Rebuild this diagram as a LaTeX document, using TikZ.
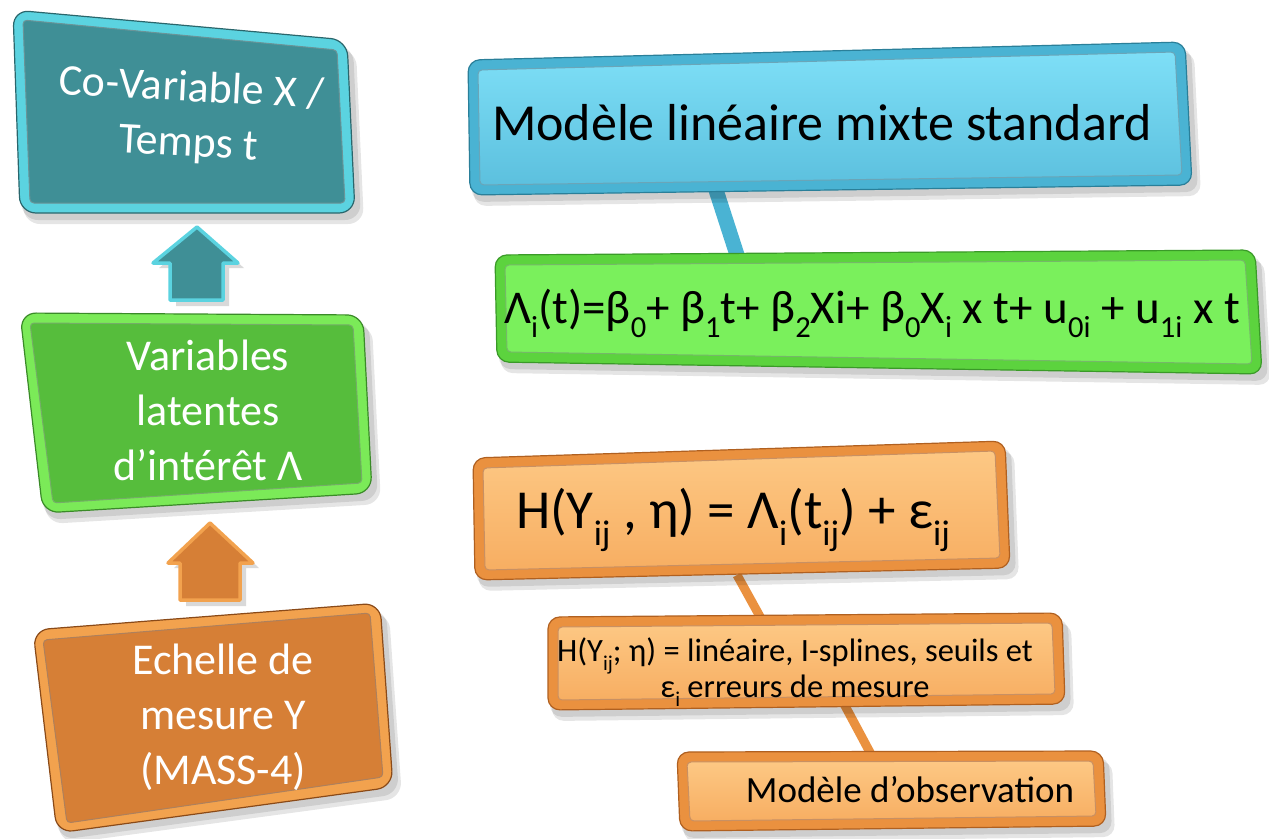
\documentclass[tikz,border=0pt]{standalone}
\usepackage{fontspec}
\setmainfont{Carlito}
\usetikzlibrary{calc}
\definecolor{tealface}{HTML}{3F8F96}
\definecolor{tealedge}{HTML}{5BD3E0}
\definecolor{tealdark}{HTML}{2A666C}
\definecolor{lgface}{HTML}{56BD3C}
\definecolor{lgedge}{HTML}{7BEA58}
\definecolor{lgdark}{HTML}{3A8A28}
\definecolor{loface}{HTML}{D67F36}
\definecolor{loedge}{HTML}{F2A24E}
\definecolor{lodark}{HTML}{8A4A18}
\definecolor{blface}{HTML}{7EDFF7}
\definecolor{blface2}{HTML}{5CC0DE}
\definecolor{bledge}{HTML}{4AB3D3}
\definecolor{bldark}{HTML}{2A7F99}
\definecolor{rgface}{HTML}{7AF05C}
\definecolor{rgedge}{HTML}{5CD33E}
\definecolor{rgdark}{HTML}{3A9A28}
\definecolor{roface}{HTML}{FDC884}
\definecolor{roface2}{HTML}{F7AE62}
\definecolor{roedge}{HTML}{EA913F}
\definecolor{rodark}{HTML}{B06020}
\newcommand\lo[1]{\raisebox{-0.3em}{\scalebox{0.65}{#1}}}
% #1..#4 corners, #5 edge colour, #6 face options, #7 dark colour, #8 radius
\newcommand\bevelbox[8]{%
  \fill[black,opacity=0.10,rounded corners=#8] ($#1+(4,10)$) -- ($#2+(9,10)$) -- ($#3+(9,11)$) -- ($#4+(4,11)$) -- cycle;
  \fill[black,opacity=0.10,rounded corners=#8] ($#1+(2,6)$) -- ($#2+(6,6)$) -- ($#3+(6,7)$) -- ($#4+(2,7)$) -- cycle;
  \filldraw[fill=#5,draw=#7,line width=1.2pt,rounded corners=#8] #1 -- #2 -- #3 -- #4 -- cycle;
  \path[#6,draw=#7!70,line width=1pt,rounded corners=4] ($#1+(10,10)$) -- ($#2+(-10,10)$) -- ($#3+(-10,-10)$) -- ($#4+(10,-10)$) -- cycle;
}
\tikzset{
  lefttext/.style={text=white,align=center,font=\fontsize{44}{55}\selectfont},
  righttext/.style={text=black,align=center},
  barblue/.style={line width=15pt,draw=bledge},
  barorange/.style={line width=9pt,draw=roedge},
  blockarrow/.style={line width=3.5pt,line join=round},
}
\begin{document}
\begin{tikzpicture}[x=1pt,y=-1pt]
\useasboundingbox (0,0) rectangle (1269,838);
% connector end points
\coordinate (b1) at (716,190);
\coordinate (b2) at (738,258);
\coordinate (o1) at (737,575);
\coordinate (o2) at (763,622);
\coordinate (o3) at (843,702);
\coordinate (o4) at (873,758);
\draw[barblue] (b1) -- (b2);
\draw[barorange] (o1) -- (o2);
\draw[barorange] (o3) -- (o4);

% left column
\bevelbox{(13,10)}{(347,40)}{(355,213)}{(20,213)}{tealedge}{fill=tealface}{tealdark}{16}
\node[lefttext,rotate=-3] (cov) at (190,117) {Co-Variable X /\\Temps t};

\fill[black,opacity=0.15] (203,232) -- (244,268) -- (229,268) -- (229,306) -- (176,306) -- (176,268) -- (159,268) -- cycle;
\filldraw[blockarrow,fill=tealface,draw=tealedge] (197,227) coordinate (a1) -- (238,263) -- (223,263) -- (223,300) -- (170,300) -- (170,263) -- (153,263) -- cycle;

\bevelbox{(20,313)}{(363,315)}{(372,493)}{(43,513)}{lgedge}{fill=lgface}{lgdark}{16}
\node[lefttext] (lat) at (208,410) {Variables\\latentes\\d’intérêt Λ};

\fill[black,opacity=0.15] (216,528) -- (259,568) -- (246,568) -- (246,606) -- (186,606) -- (186,568) -- (174,568) -- cycle;
\filldraw[blockarrow,fill=loface,draw=loedge] (210,523) coordinate (a2) -- (253,563) -- (240,563) -- (240,600) -- (180,600) -- (180,563) -- (168,563) -- cycle;

\bevelbox{(33,630)}{(380,603)}{(393,787)}{(57,833)}{loedge}{fill=loface}{lodark}{16}
\node[lefttext] (ech) at (223,717) {Echelle de\\mesure Y\\(MASS-4)};

% right column
\bevelbox{(468,60)}{(1185,42)}{(1192,185)}{(470,195)}{bledge}{top color=blface,bottom color=blface2}{bldark}{12}
\node[righttext,font=\fontsize{52}{60}\selectfont] (mod) at (822,123) {Modèle linéaire mixte standard};

\bevelbox{(495,255)}{(1255,250)}{(1262,374)}{(497,362)}{rgedge}{fill=rgface}{rgdark}{12}
\node[righttext,font=\fontsize{47}{56}\selectfont] (frm) at (872,313) {Λ\lo{i}(t)=β\lo{0}+ β\lo{1}t+ β\lo{2}Xi+ β\lo{0}X\lo{i} x t+ u\lo{0i} + u\lo{1i} x t};

\bevelbox{(473,458)}{(1005,441)}{(1010,568)}{(475,580)}{roedge}{top color=roface,bottom color=roface2}{rodark}{12}
\node[righttext,font=\fontsize{55}{62}\selectfont] (hyp) at (733,520) {H(Y\lo{ij} , η) = Λ\lo{i}(t\lo{ij}) + ε\lo{ij}};

\bevelbox{(548,617)}{(1062,613)}{(1065,704)}{(548,710)}{roedge}{top color=roface,bottom color=roface2}{rodark}{12}
\node[righttext,font=\fontsize{32.5}{36}\selectfont] (hdef) at (795,672) {H(Y\lo{ij}; η) = linéaire, I-splines, seuils et\\ε\lo{i} erreurs de mesure};

\bevelbox{(677,752)}{(1103,751)}{(1106,826)}{(680,831)}{roedge}{top color=roface,bottom color=roface2}{rodark}{12}
\node[righttext,font=\fontsize{37}{42}\selectfont] (obs) at (910,790) {Modèle d’observation};
\end{tikzpicture}
\end{document}
